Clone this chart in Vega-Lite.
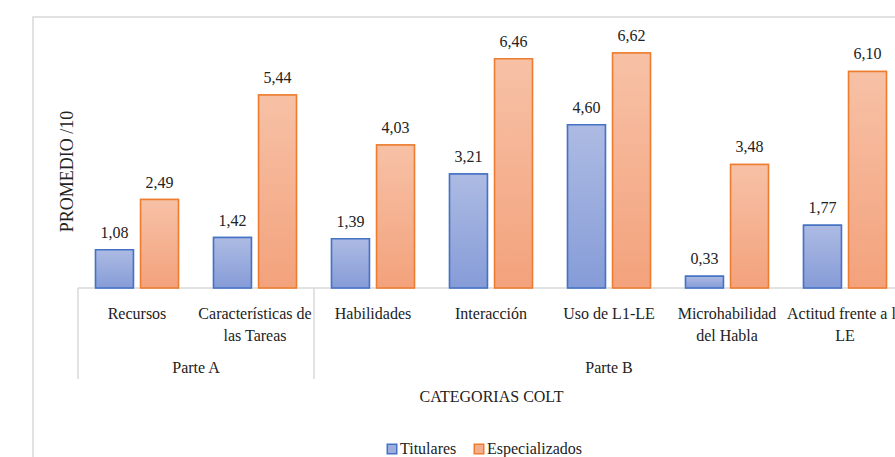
{
  "$schema": "https://vega.github.io/schema/vega-lite/v6.json",
  "width": 872,
  "height": 450,
  "autosize": {"type": "none"},
  "padding": {"left": 33, "top": 17, "right": -10, "bottom": -10},
  "background": "white",
  "config": {
    "view": {"stroke": "#d9d9d9", "strokeWidth": 1.5},
    "font": "'Liberation Serif', 'Times New Roman', 'DejaVu Serif', serif",
    "locale": {"number": {"decimal": ",", "thousands": ".", "grouping": [3], "currency": ["", " €"]}}
  },
  "datasets": {
    "scores": [
      {"categoria": "Recursos", "serie": "Titulares", "valor": 1.08},
      {"categoria": "Recursos", "serie": "Especializados", "valor": 2.49},
      {"categoria": "Características de las Tareas", "serie": "Titulares", "valor": 1.42},
      {"categoria": "Características de las Tareas", "serie": "Especializados", "valor": 5.44},
      {"categoria": "Habilidades", "serie": "Titulares", "valor": 1.39},
      {"categoria": "Habilidades", "serie": "Especializados", "valor": 4.03},
      {"categoria": "Interacción", "serie": "Titulares", "valor": 3.21},
      {"categoria": "Interacción", "serie": "Especializados", "valor": 6.46},
      {"categoria": "Uso de L1-LE", "serie": "Titulares", "valor": 4.60},
      {"categoria": "Uso de L1-LE", "serie": "Especializados", "valor": 6.62},
      {"categoria": "Microhabilidad del Habla", "serie": "Titulares", "valor": 0.33},
      {"categoria": "Microhabilidad del Habla", "serie": "Especializados", "valor": 3.48},
      {"categoria": "Actitud frente a la LE", "serie": "Titulares", "valor": 1.77},
      {"categoria": "Actitud frente a la LE", "serie": "Especializados", "valor": 6.10}
    ],
    "cats": [
      {"categoria": "Recursos"},
      {"categoria": "Características de las Tareas"},
      {"categoria": "Habilidades"},
      {"categoria": "Interacción"},
      {"categoria": "Uso de L1-LE"},
      {"categoria": "Microhabilidad del Habla"},
      {"categoria": "Actitud frente a la LE"}
    ],
    "seps": [
      {"categoria": "Recursos"},
      {"categoria": "Habilidades"}
    ],
    "partes": [
      {"categoria": "Características de las Tareas", "parte": "Parte A"},
      {"categoria": "Uso de L1-LE", "parte": "Parte B"}
    ]
  },
  "layer": [
    {
      "data": {"name": "scores"},
      "mark": {"type": "bar", "strokeWidth": 1.5},
      "encoding": {
        "x": {
          "field": "categoria", "type": "nominal", "sort": null,
          "scale": {
            "domain": ["Recursos", "Características de las Tareas", "Habilidades", "Interacción", "Uso de L1-LE", "Microhabilidad del Habla", "Actitud frente a la LE"],
            "range": [45, 871], "paddingInner": 0, "paddingOuter": 0
          },
          "axis": {
            "title": "CATEGORIAS COLT",
            "offset": -179,
            "domain": false, "ticks": false, "tickSize": 0, "grid": false,
            "labelAngle": 0, "labelOverlap": false, "labelFlush": false, "labelLimit": 0,
            "labelFontSize": 16, "labelColor": "#222222",
            "labelBaseline": "alphabetic", "labelPadding": 30, "labelLineHeight": 22,
            "labelExpr": "datum.label == 'Características de las Tareas' ? ['Características de', 'las Tareas'] : datum.label == 'Microhabilidad del Habla' ? ['Microhabilidad', 'del Habla'] : datum.label == 'Actitud frente a la LE' ? ['Actitud frente a la', 'LE'] : datum.label",
            "titleFontSize": 16, "titleFontWeight": "normal", "titleColor": "#222222",
            "titleX": 458, "titleY": 113, "titleBaseline": "alphabetic", "titleAlign": "center"
          }
        },
        "xOffset": {
          "field": "serie", "type": "nominal", "sort": ["Titulares", "Especializados"],
          "scale": {"paddingInner": 0.16, "paddingOuter": 0.39}
        },
        "y": {
          "field": "valor", "type": "quantitative",
          "scale": {"domain": [-5.042, 7.634], "nice": false, "zero": false},
          "axis": {
            "title": "PROMEDIO /10",
            "labels": false, "ticks": false, "domain": false, "grid": false,
            "titleFontSize": 18, "titleFontWeight": "normal", "titleColor": "#222222",
            "titleAngle": -90, "titleX": 34, "titleY": 154, "titleAlign": "center", "titleBaseline": "middle"
          }
        },
        "fill": {
          "field": "serie", "type": "nominal", "sort": ["Titulares", "Especializados"],
          "scale": {"domain": ["Titulares", "Especializados"], "range": ["#9aaddd", "#f4ae8c"]},
          "legend": {
            "title": null, "orient": "none", "direction": "horizontal",
            "legendX": 351, "legendY": 424,
            "symbolType": "square", "symbolSize": 90, "symbolStrokeWidth": 1.5,
            "labelFontSize": 16, "labelColor": "#222222",
            "labelOffset": 0, "columnPadding": 14
          }
        },
        "stroke": {
          "field": "serie", "type": "nominal", "sort": ["Titulares", "Especializados"],
          "scale": {"domain": ["Titulares", "Especializados"], "range": ["#4472c4", "#ed7d31"]},
          "legend": {
            "title": null, "orient": "none", "direction": "horizontal",
            "legendX": 351, "legendY": 424,
            "symbolType": "square", "symbolSize": 90, "symbolStrokeWidth": 1.5,
            "labelFontSize": 16, "labelColor": "#222222",
            "labelOffset": 0, "columnPadding": 14
          }
        }
      }
    },
    {
      "data": {"name": "cats"},
      "mark": {"type": "rect", "fill": null, "stroke": "#d9d9d9", "strokeWidth": 1.5},
      "encoding": {
        "x": {"field": "categoria", "type": "nominal", "sort": null},
        "y": {"datum": 0, "type": "quantitative"},
        "y2": {"datum": 0}
      }
    },
    {
      "data": {"name": "seps"},
      "mark": {"type": "rule", "color": "#d9d9d9", "strokeWidth": 1.5},
      "encoding": {
        "x": {"field": "categoria", "type": "nominal", "sort": null, "bandPosition": 0},
        "y": {"datum": 0, "type": "quantitative"},
        "y2": {"datum": -2.56}
      }
    },
    {
      "data": {"name": "scores"},
      "transform": [{"filter": "datum.serie == 'Titulares'"}],
      "mark": {
        "type": "bar", "stroke": "#4472c4", "strokeWidth": 1.5,
        "fill": {"gradient": "linear", "x1": 0, "y1": 0, "x2": 0, "y2": 1,
          "stops": [{"offset": 0, "color": "#adbbe3"}, {"offset": 1, "color": "#869cd8"}]}
      },
      "encoding": {
        "x": {"field": "categoria", "type": "nominal", "sort": null},
        "xOffset": {"field": "serie", "type": "nominal", "sort": ["Titulares", "Especializados"]},
        "y": {"field": "valor", "type": "quantitative"}
      }
    },
    {
      "data": {"name": "scores"},
      "transform": [{"filter": "datum.serie == 'Especializados'"}],
      "mark": {
        "type": "bar", "stroke": "#ed7d31", "strokeWidth": 1.5,
        "fill": {"gradient": "linear", "x1": 0, "y1": 0, "x2": 0, "y2": 1,
          "stops": [{"offset": 0, "color": "#f7c1a6"}, {"offset": 1, "color": "#f3a27c"}]}
      },
      "encoding": {
        "x": {"field": "categoria", "type": "nominal", "sort": null},
        "xOffset": {"field": "serie", "type": "nominal", "sort": ["Titulares", "Especializados"]},
        "y": {"field": "valor", "type": "quantitative"}
      }
    },
    {
      "data": {"name": "scores"},
      "mark": {"type": "text", "fontSize": 16, "color": "#222222", "baseline": "alphabetic", "dy": -12},
      "encoding": {
        "x": {"field": "categoria", "type": "nominal", "sort": null},
        "xOffset": {"field": "serie", "type": "nominal", "sort": ["Titulares", "Especializados"]},
        "y": {"field": "valor", "type": "quantitative"},
        "text": {"field": "valor", "type": "quantitative", "format": ".2f"}
      }
    },
    {
      "data": {"name": "partes"},
      "transform": [{"filter": "datum.parte == 'Parte A'"}],
      "mark": {"type": "text", "fontSize": 16, "color": "#222222", "baseline": "alphabetic"},
      "encoding": {
        "x": {"field": "categoria", "type": "nominal", "sort": null, "bandPosition": 0},
        "y": {"datum": -2.4, "type": "quantitative"},
        "text": {"field": "parte"}
      }
    },
    {
      "data": {"name": "partes"},
      "transform": [{"filter": "datum.parte == 'Parte B'"}],
      "mark": {"type": "text", "fontSize": 16, "color": "#222222", "baseline": "alphabetic"},
      "encoding": {
        "x": {"field": "categoria", "type": "nominal", "sort": null, "bandPosition": 0.5},
        "y": {"datum": -2.4, "type": "quantitative"},
        "text": {"field": "parte"}
      }
    }
  ]
}
